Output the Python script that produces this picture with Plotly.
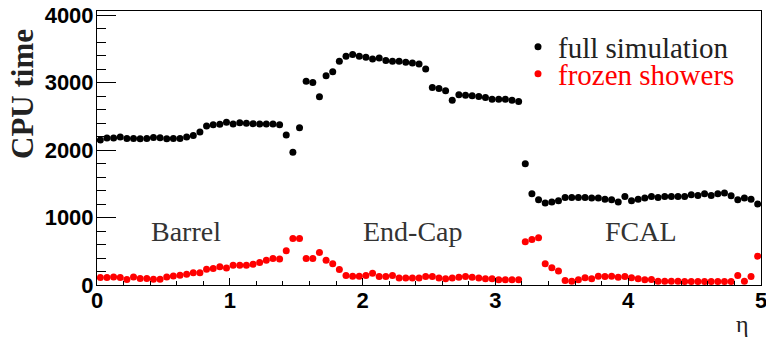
import numpy as np
import plotly.graph_objects as go

# eta bin centres: 100 bins of width 0.05 from 0 to 5
bin_width = 0.05
eta = [round(bin_width * (i + 0.5), 3) for i in range(100)]

full_simulation = [
    2150, 2180, 2180, 2194, 2175, 2175, 2170, 2175, 2190, 2185,
    2170, 2175, 2175, 2194, 2219, 2269, 2359, 2379, 2384, 2413,
    2388, 2408, 2399, 2394, 2388, 2388, 2388, 2379, 2224, 1970,
    2333, 3021, 3006, 2791, 3104, 3164, 3319, 3394, 3418, 3394,
    3379, 3354, 3369, 3329, 3319, 3319, 3304, 3294, 3279, 3204,
    2931, 2916, 2881, 2742, 2821, 2816, 2806, 2796, 2782, 2757,
    2757, 2757, 2742, 2722, 1797, 1354, 1264, 1215, 1230, 1249,
    1299, 1299, 1299, 1299, 1289, 1289, 1274, 1264, 1230, 1314,
    1249, 1274, 1289, 1314, 1299, 1314, 1314, 1314, 1314, 1339,
    1329, 1354, 1329, 1354, 1364, 1324, 1264, 1289, 1274, 1200,
]

frozen_showers = [
    110, 110, 120, 110, 80, 120, 95, 95, 85, 85,
    120, 135, 145, 160, 180, 180, 234, 244, 269, 254,
    294, 294, 294, 309, 334, 369, 394, 384, 508, 690,
    690, 394, 394, 483, 369, 315, 230, 141, 131, 131,
    141, 176, 126, 126, 141, 102, 102, 102, 102, 126,
    126, 102, 92, 102, 116, 126, 116, 102, 92, 92,
    77, 77, 77, 77, 640, 675, 700, 315, 256, 206,
    67, 57, 77, 107, 92, 131, 126, 131, 116, 126,
    107, 92, 77, 82, 57, 57, 57, 57, 52, 52,
    52, 52, 52, 52, 52, 52, 141, 57, 126, 428,
]

region_labels = ["Barrel", "End-Cap", "FCAL"]
region_label_x = [0.673, 2.38, 4.10]
region_label_y = [790, 790, 790]

series_names = ["full simulation", "frozen showers"]
series_colors = ["black", "#ff0000"]

x_ticks = [0, 1, 2, 3, 4, 5]
y_ticks = [0, 1000, 2000, 3000, 4000]

fig = go.Figure()
fig.add_trace(go.Scatter(
    x=eta, y=full_simulation, mode="markers", name=series_names[0],
    marker=dict(color=series_colors[0], size=7, line=dict(width=0)),
    legend="legend",
))
fig.add_trace(go.Scatter(
    x=eta, y=frozen_showers, mode="markers", name=series_names[1],
    marker=dict(color=series_colors[1], size=7, line=dict(width=0)),
    legend="legend2",
))

W, H = 766, 340
ml, mr, mt, mb = 97, 5, 11, 55
pw, ph = W - ml - mr, H - mt - mb

def px_x(p):
    return (p - ml) / pw

def px_y(p):
    return (H - mb - p) / ph

serif = "Liberation Serif"
sans = "Liberation Sans"

for txt, xv, yv in zip(region_labels, region_label_x, region_label_y):
    fig.add_annotation(x=xv, y=yv, xref="x", yref="y", text=txt, showarrow=False,
                       xanchor="center", yanchor="middle",
                       font=dict(family=serif, size=28, color="#333333"))

fig.add_annotation(x=px_x(22), y=px_y(94), xref="paper", yref="paper",
                   text="<b>CPU time</b>", textangle=-90, showarrow=False,
                   xanchor="center", yanchor="middle",
                   font=dict(family=serif, size=31, color="#222222"))

fig.add_annotation(x=px_x(742), y=px_y(324), xref="paper", yref="paper",
                   text="η", showarrow=False, xanchor="center", yanchor="middle",
                   font=dict(family=serif, size=24, color="#222222"))

legend_common = dict(
    xanchor="left", yanchor="middle", bgcolor="rgba(0,0,0,0)", borderwidth=0,
    itemwidth=30, traceorder="normal",
)
fig.update_layout(
    width=W, height=H,
    margin=dict(l=ml, r=mr, t=mt, b=mb, pad=0, autoexpand=False),
    plot_bgcolor="white", paper_bgcolor="white",
    showlegend=True,
    legend=dict(x=px_x(518), y=px_y(47),
                font=dict(family=serif, size=29, color="#222222"), **legend_common),
    legend2=dict(x=px_x(518), y=px_y(74),
                 font=dict(family=serif, size=29, color="#ff0000"), **legend_common),
    xaxis=dict(
        range=[0, 5], tickvals=x_ticks, ticktext=[str(v) for v in x_ticks],
        ticks="inside", ticklen=7, tickwidth=1, tickcolor="black",
        minor=dict(dtick=0.2, tick0=0, ticks="inside", ticklen=4, tickcolor="black"),
        showline=True, linecolor="black", linewidth=1, mirror=True,
        showgrid=False, zeroline=False, ticklabeloverflow="allow",
        ticklabelstandoff=-4,
        tickfont=dict(family=sans, size=22, color="black", weight="bold"),
    ),
    yaxis=dict(
        range=[0, 4065], tickvals=y_ticks, ticktext=[str(v) for v in y_ticks],
        ticks="inside", ticklen=19, tickwidth=1, tickcolor="black",
        minor=dict(dtick=200, tick0=0, ticks="inside", ticklen=9, tickcolor="black"),
        showline=True, linecolor="black", linewidth=1, mirror=True,
        showgrid=False, zeroline=False, ticklabeloverflow="allow",
        ticklabelstandoff=-2,
        tickfont=dict(family=sans, size=22, color="black", weight="bold"),
    ),
)

fig.write_html(
    "out.html",
    config={"displayModeBar": False},
    post_script="document.body.style.margin='0';document.body.style.overflow='hidden';",
)
